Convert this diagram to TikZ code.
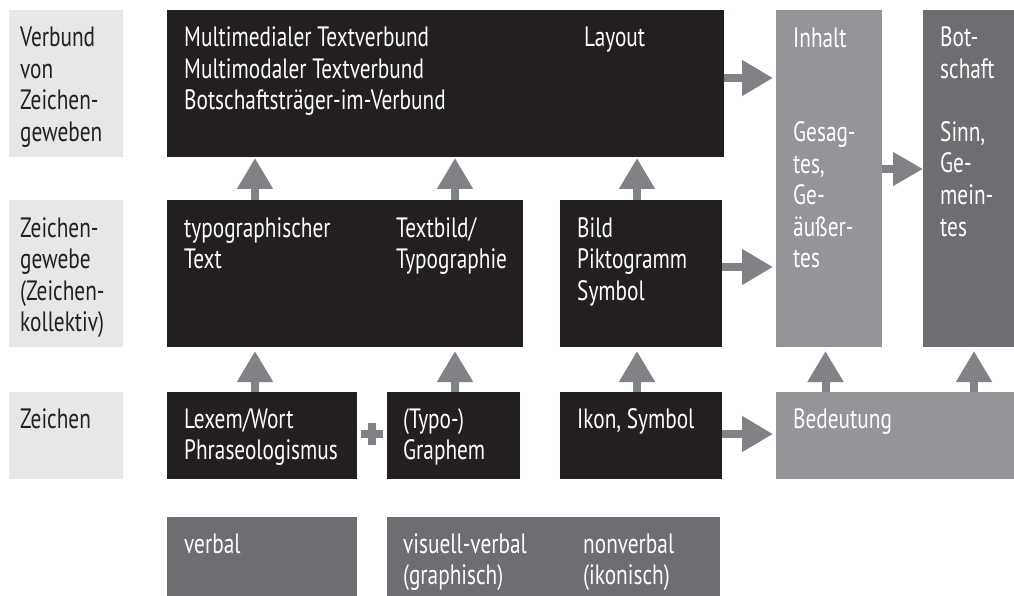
\documentclass[tikz,border=0pt]{standalone}
\usepackage{fontspec}
\setmainfont{PT Sans}[FakeStretch=0.76]
\usetikzlibrary{arrows.meta}
\definecolor{blk}{HTML}{231F20}
\definecolor{lgr}{HTML}{E6E7E8}
\definecolor{mgr}{HTML}{939598}
\definecolor{dgr}{HTML}{6D6E71}
\definecolor{agr}{HTML}{808285}
\begin{document}
\begin{tikzpicture}[x=1pt,y=-1pt,
  bx/.style={draw=none,inner sep=0,outer sep=0,anchor=north west},
  wtxt/.style={text=white,align=left,inner sep=0,anchor=base west,font=\fontsize{28}{31.5}\selectfont},
  btxt/.style={wtxt,text=blk},
  arr/.style={draw=agr,line width=8pt,-{Triangle[length=31pt,width=34pt]}},
]
\useasboundingbox (0,0) rectangle (1014,596);
% label boxes
\node[bx,fill=lgr,minimum width=114pt,minimum height=147pt] (l1) at (9,10) {};
\node[bx,fill=lgr,minimum width=114pt,minimum height=147pt] (l2) at (9,200) {};
\node[bx,fill=lgr,minimum width=114pt,minimum height=87pt] (l3) at (9,392) {};
% black boxes
\node[bx,fill=blk,minimum width=557pt,minimum height=147pt] (top) at (167,10) {};
\node[bx,fill=blk,minimum width=356pt,minimum height=147pt] (m1) at (167,200) {};
\node[bx,fill=blk,minimum width=162pt,minimum height=147pt] (m2) at (560,200) {};
\node[bx,fill=blk,minimum width=190pt,minimum height=87pt] (b1) at (167,392) {};
\node[bx,fill=blk,minimum width=133pt,minimum height=87pt] (b2) at (387,392) {};
\node[bx,fill=blk,minimum width=162pt,minimum height=87pt] (b3) at (560,392) {};
% grey boxes
\node[bx,fill=mgr,minimum width=106pt,minimum height=337pt] (inh) at (776,10) {};
\node[bx,fill=dgr,minimum width=91pt,minimum height=337pt] (bot) at (923,10) {};
\node[bx,fill=mgr,minimum width=238pt,minimum height=87pt] (bed) at (776,392) {};
\node[bx,fill=dgr,minimum width=190pt,minimum height=79pt] (v1) at (167,517) {};
\node[bx,fill=dgr,minimum width=333pt,minimum height=79pt] (v2) at (387,517) {};
% texts (anchor = baseline of last line)
\node[btxt] (t1) at (20,141.5) {Verbund\\von\\Zeichen-\\geweben};
\node[btxt] (t2) at (20,331.5) {Zeichen-\\gewebe\\(Zeichen-\\kollektiv)};
\node[btxt] (t3) at (20,428) {Zeichen};
\node[wtxt] (t4) at (184,110) {Multimedialer Textverbund\\Multimodaler Textverbund\\Botschaftsträger-im-Verbund};
\node[wtxt] (t5) at (584,47) {Layout};
\node[wtxt] (t6) at (184,268.5) {typographischer\\Text};
\node[wtxt] (t7) at (396,268.5) {Textbild/\\Typographie};
\node[wtxt] (t8) at (577,300) {Bild\\Piktogramm\\Symbol};
\node[wtxt] (t9) at (184,459.5) {Lexem/Wort\\Phraseologismus};
\node[wtxt] (t10) at (403,459.5) {(Typo-)\\Graphem};
\node[wtxt] (t11) at (577,428) {Ikon, Symbol};
\node[wtxt] (t12) at (793,428) {Bedeutung};
\node[wtxt] (t13) at (793,267.5) {Inhalt\\[63pt]Gesag-\\tes,\\Ge-\\äußer-\\tes};
\node[wtxt] (t14) at (940,236) {Bot-\\schaft\\[31.5pt]Sinn,\\Ge-\\mein-\\tes};
\node[wtxt] (t15) at (184,553) {verbal};
\node[wtxt] (t16) at (403,584.5) {visuell-verbal\\(graphisch)};
\node[wtxt] (t17) at (583,584.5) {nonverbal\\(ikonisch)};
% columns and rows
\coordinate (c1) at (255,0);
\coordinate (c2) at (455,0);
\coordinate (c3) at (637,0);
\coordinate (c4) at (825.5,0);
\coordinate (c5) at (974,0);
\coordinate (r1) at (0,78);
\coordinate (r2) at (0,169);
\coordinate (r3) at (0,267);
\coordinate (r4) at (0,434);
% arrows up
\draw[arr,shorten >=1pt] (m1.north -| c1) -- (top.south -| c1);
\draw[arr,shorten >=1pt] (m1.north -| c2) -- (top.south -| c2);
\draw[arr,shorten >=1pt] (m2.north -| c3) -- (top.south -| c3);
\draw[arr,shorten >=4pt] (b1.north -| c1) -- (m1.south -| c1);
\draw[arr,shorten >=4pt] (b2.north -| c2) -- (m1.south -| c2);
\draw[arr,shorten >=4pt] (b3.north -| c3) -- (m2.south -| c3);
\draw[arr,shorten >=4pt] (bed.north -| c4) -- (inh.south -| c4);
\draw[arr,shorten >=4pt] (bed.north -| c5) -- (bot.south -| c5);
% arrows right
\draw[arr,shorten >=3pt] (top.east |- r1) -- (inh.west |- r1);
\draw[arr,shorten >=3pt] (m2.east |- r3) -- (inh.west |- r3);
\draw[arr,shorten >=3pt] (b3.east |- r4) -- (bed.west |- r4);
\draw[arr,-{Triangle[length=30pt,width=32pt]}] (inh.east |- r2) -- (bot.west |- r2);
% plus
\coordinate (pl) at (371.5,433.5);
\draw[agr,line width=8pt] ([xshift=-11pt]pl) -- ([xshift=11pt]pl);
\draw[agr,line width=8pt] ([yshift=-11pt]pl) -- ([yshift=11pt]pl);
\end{tikzpicture}
\end{document}
